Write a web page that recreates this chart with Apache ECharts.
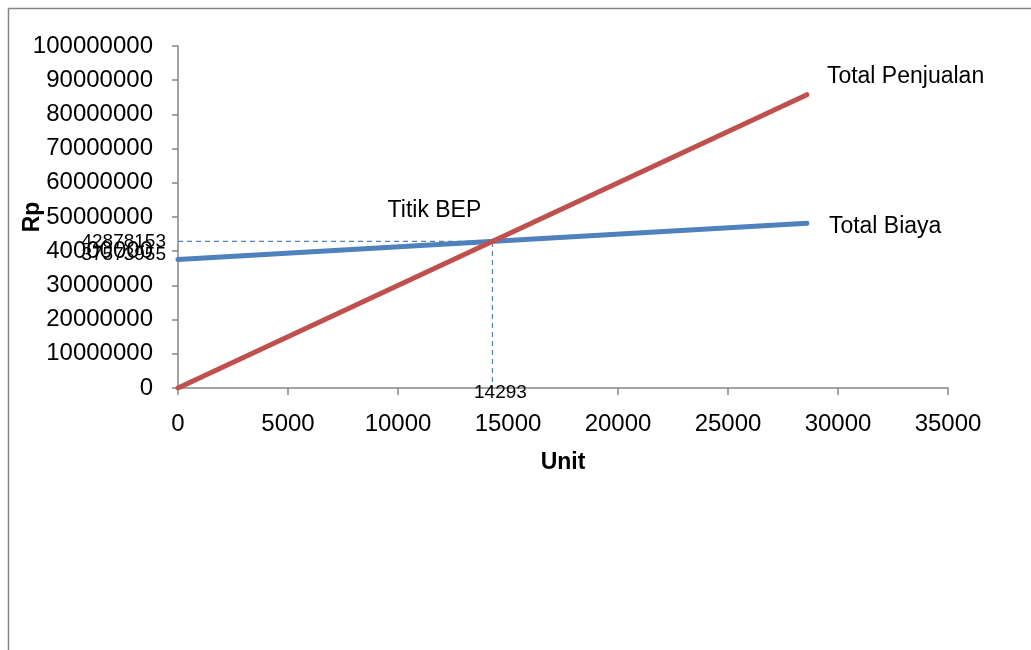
<!DOCTYPE html>
<html>
<head>
<meta charset="utf-8">
<script src="https://cdn.jsdelivr.net/npm/echarts@6/dist/echarts.min.js"></script>
<style>
  html, body { margin: 0; padding: 0; background: #fff; }
  #chart { width: 1031px; height: 650px; }
</style>
</head>
<body>
<div id="chart"></div>
<script>
// Break-even analysis: units sold vs. rupiah
const unitPoints = [0, 28586];
const totalPenjualan = [0, 85756459];
const totalBiaya = [37573955, 48182351];
const bepUnit = 14293;
const bepRp = 42878153;
const fixedCost = 37573955;
const xTicks = { min: 0, max: 35000, step: 5000 };
const yTicks = { min: 0, max: 100000000, step: 10000000 };
const seriesNames = ['Total Penjualan', 'Total Biaya'];
const bepTitle = 'Titik BEP';

const FONT = 'Liberation Sans';
const chart = echarts.init(document.getElementById('chart'), null, { renderer: 'canvas' });

function pairs(xs, ys) { return xs.map((x, i) => [x, ys[i]]); }

function lineSeries(values, name, color) {
  return {
    type: 'line', name: name, data: pairs(unitPoints, values),
    showSymbol: false, symbol: 'none', z: 5,
    lineStyle: { color: color, width: 5, cap: 'round' },
    itemStyle: { color: color }
  };
}

// invisible points that carry text labels
function labelPoint(value, text, position, opts) {
  return {
    type: 'scatter', symbolSize: 0, z: 10, silent: true,
    itemStyle: { opacity: 1, color: '#000' },
    data: [{ value: value }],
    label: Object.assign({
      show: true, position: position, formatter: text,
      color: '#000', opacity: 1, fontFamily: FONT, fontSize: 19
    }, opts || {})
  };
}

const plain = v => String(v);

chart.setOption({
  animation: false,
  backgroundColor: '#fff',
  grid: { left: 178, right: 83, top: 46, bottom: 262, containLabel: false, outerBoundsMode: 'none' },
  xAxis: {
    type: 'value', min: xTicks.min, max: xTicks.max, interval: xTicks.step,
    name: 'Unit', nameLocation: 'middle', nameGap: 63, nameMoveOverlap: false,
    nameTextStyle: { fontFamily: FONT, fontSize: 23, fontWeight: 'bold', color: '#000' },
    axisLine: { show: true, lineStyle: { color: '#868686', width: 1.5 } },
    axisTick: { show: true, length: 7, lineStyle: { color: '#868686', width: 1.5 } },
    axisLabel: { margin: 24, fontFamily: FONT, fontSize: 24, color: '#000', formatter: plain },
    splitLine: { show: false }
  },
  yAxis: {
    type: 'value', min: yTicks.min, max: yTicks.max, interval: yTicks.step,
    name: 'Rp', nameLocation: 'middle', nameGap: 134, nameMoveOverlap: false,
    nameTextStyle: { fontFamily: FONT, fontSize: 23, fontWeight: 'bold', color: '#000' },
    axisLine: { show: true, lineStyle: { color: '#868686', width: 1.5 } },
    axisTick: { show: true, length: 6, lineStyle: { color: '#868686', width: 1.5 } },
    axisLabel: { margin: 25, fontFamily: FONT, fontSize: 24, color: '#000', formatter: plain },
    splitLine: { show: false }
  },
  series: [
    {
      type: 'line', name: 'BEP',
      data: [[0, bepRp], [bepUnit, bepRp], [bepUnit, 0]],
      showSymbol: false, symbol: 'none', z: 3,
      lineStyle: { color: '#4F81BD', width: 1.2, type: [5, 4] }
    },
    lineSeries(totalBiaya, seriesNames[1], '#4F81BD'),
    lineSeries(totalPenjualan, seriesNames[0], '#C0504D'),
    labelPoint([0, bepRp], String(bepRp), 'left', { distance: 12, offset: [0, 0] }),
    labelPoint([0, fixedCost], String(fixedCost), 'left', { distance: 12, offset: [0, -5] }),
    labelPoint([bepUnit, 0], String(bepUnit), 'bottom', { distance: 0, offset: [8, -5] }),
    labelPoint([bepUnit, bepRp], bepTitle, 'top', { fontSize: 23, distance: 0, offset: [-58, -19] }),
    labelPoint([unitPoints[1], totalPenjualan[1]], seriesNames[0], 'right', { fontSize: 23, distance: 20, offset: [0, -18] }),
    labelPoint([unitPoints[1], totalBiaya[1]], seriesNames[1], 'right', { fontSize: 23, distance: 22, offset: [0, 3] })
  ],
  graphic: [
    { type: 'polyline', shape: { points: [[8.5, 650], [8.5, 8.5], [1031, 8.5]] },
      style: { stroke: '#868686', lineWidth: 1.5, fill: null } }
  ]
});
</script>
</body>
</html>
